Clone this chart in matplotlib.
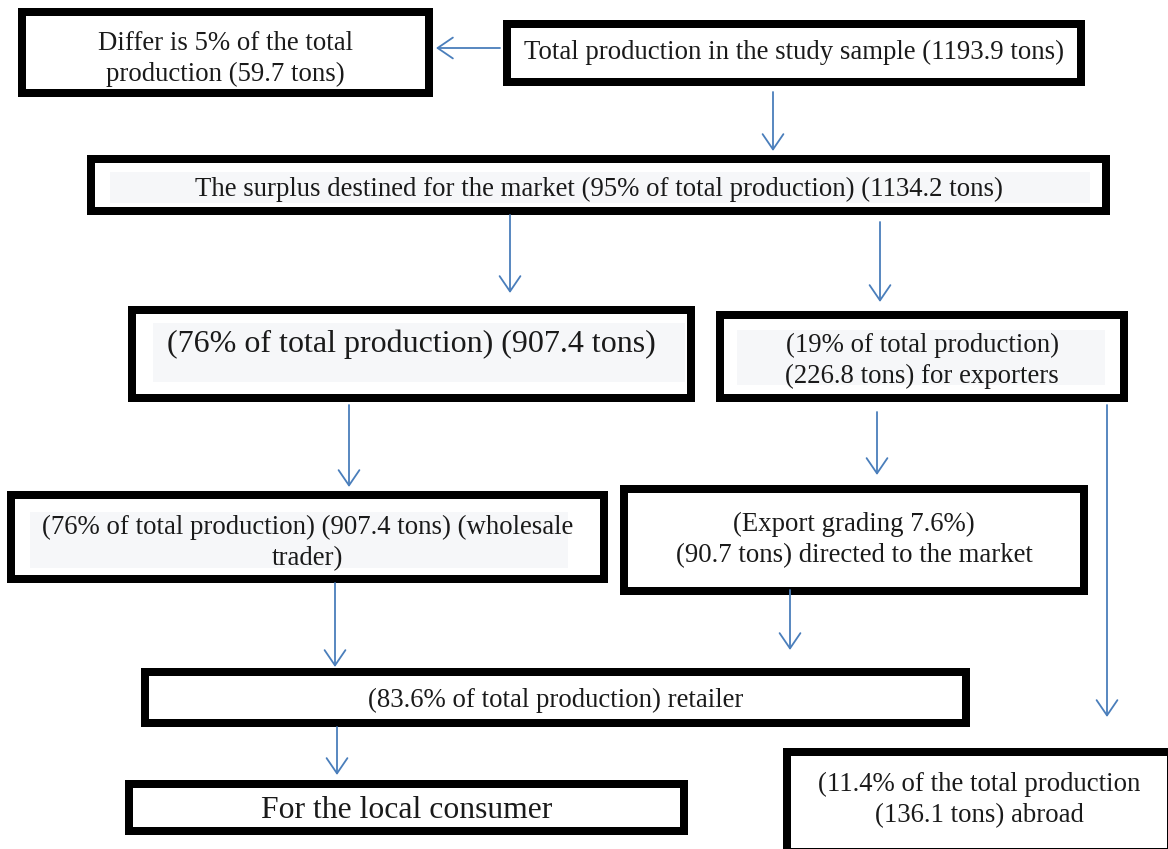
import matplotlib.pyplot as plt
from matplotlib.patches import Rectangle

# box texts (top to bottom, left to right)
labels = [
    "Differ is 5% of the total\nproduction (59.7 tons)",
    "Total production in the study sample (1193.9 tons)",
    "The surplus destined for the market (95% of total production) (1134.2 tons)",
    "(76% of total production) (907.4 tons)",
    "(19% of total production)\n(226.8 tons) for exporters",
    "(76% of total production) (907.4 tons) (wholesale\ntrader)",
    "(Export grading 7.6%)\n(90.7 tons) directed to the market",
    "(83.6% of total production) retailer",
    "For the local consumer",
    "(11.4% of the total production\n(136.1 tons) abroad",
]

# layout in pixels: outer box (x0, y0, x1, y1), inner shaded band or None, text y, font size
boxes = [
    ((18, 8, 433, 97), None, 59, 19.3),
    ((503, 20, 1085, 86), None, 52, 19.3),
    ((87, 155, 1110, 215), (110, 172, 1090, 203), 189, 19.3),
    ((128, 306, 695, 402), (153, 323, 685, 382), 344, 23),
    ((716, 311, 1128, 402), (737, 330, 1105, 385), 361, 19.3),
    ((7, 491, 608, 583), (30, 512, 568, 568), 543, 19.3),
    ((620, 485, 1088, 595), None, 540, 19.3),
    ((141, 668, 970, 727), None, 700, 19.3),
    ((125, 780, 688, 835), None, 810, 22.8),
    ((783, 748, 1175, 856), None, 800, 19.3),
]

# arrows: (x_start, y_start, x_end, y_end)
arrows = [
    (500, 48, 436, 48),
    (773, 92, 773, 151),
    (510, 215, 510, 293),
    (880, 222, 880, 302),
    (349, 405, 349, 487),
    (877, 412, 877, 475),
    (1107, 405, 1107, 717),
    (335, 583, 335, 667),
    (790, 590, 790, 650),
    (337, 727, 337, 775),
]

border = 8
arrow_color = "#4a7ebb"
shade = "#f6f7f9"

fig = plt.figure(figsize=(11.68, 8.49), dpi=100)
ax = fig.add_axes([0, 0, 1, 1])
ax.set_xlim(0, 1168)
ax.set_ylim(849, 0)
ax.axis("off")

lw = border * 72 / 100
for text, (outer, inner, ty, fs) in zip(labels, boxes):
    x0, y0, x1, y1 = outer
    h = border / 2
    rect = Rectangle((x0 + h, y0 + h), x1 - x0 - border, y1 - y0 - border,
                     facecolor="white", edgecolor="black", linewidth=lw, joinstyle="miter")
    ax.add_patch(rect)
    if inner is not None:
        ix0, iy0, ix1, iy1 = inner
        ax.add_patch(Rectangle((ix0, iy0), ix1 - ix0, iy1 - iy0, facecolor=shade,
                               edgecolor="none"))
    clip = Rectangle((x0 + border, y0 + border), x1 - x0 - 2 * border, y1 - y0 - 2 * border,
                     transform=ax.transData)
    t = ax.text((x0 + x1) / 2, ty, text, ha="center", va="center", fontsize=fs,
                family="Liberation Serif", color="#1a1a1a", linespacing=1.3)
    t.set_clip_path(clip)

for xs, ys, xe, ye in arrows:
    ax.annotate("", xy=(xe, ye), xytext=(xs, ys),
                arrowprops=dict(arrowstyle="->,head_length=1.1,head_width=0.75",
                                color=arrow_color, lw=1.3, shrinkA=0, shrinkB=0,
                                mutation_scale=10))

fig.savefig("out.png", dpi=100)
